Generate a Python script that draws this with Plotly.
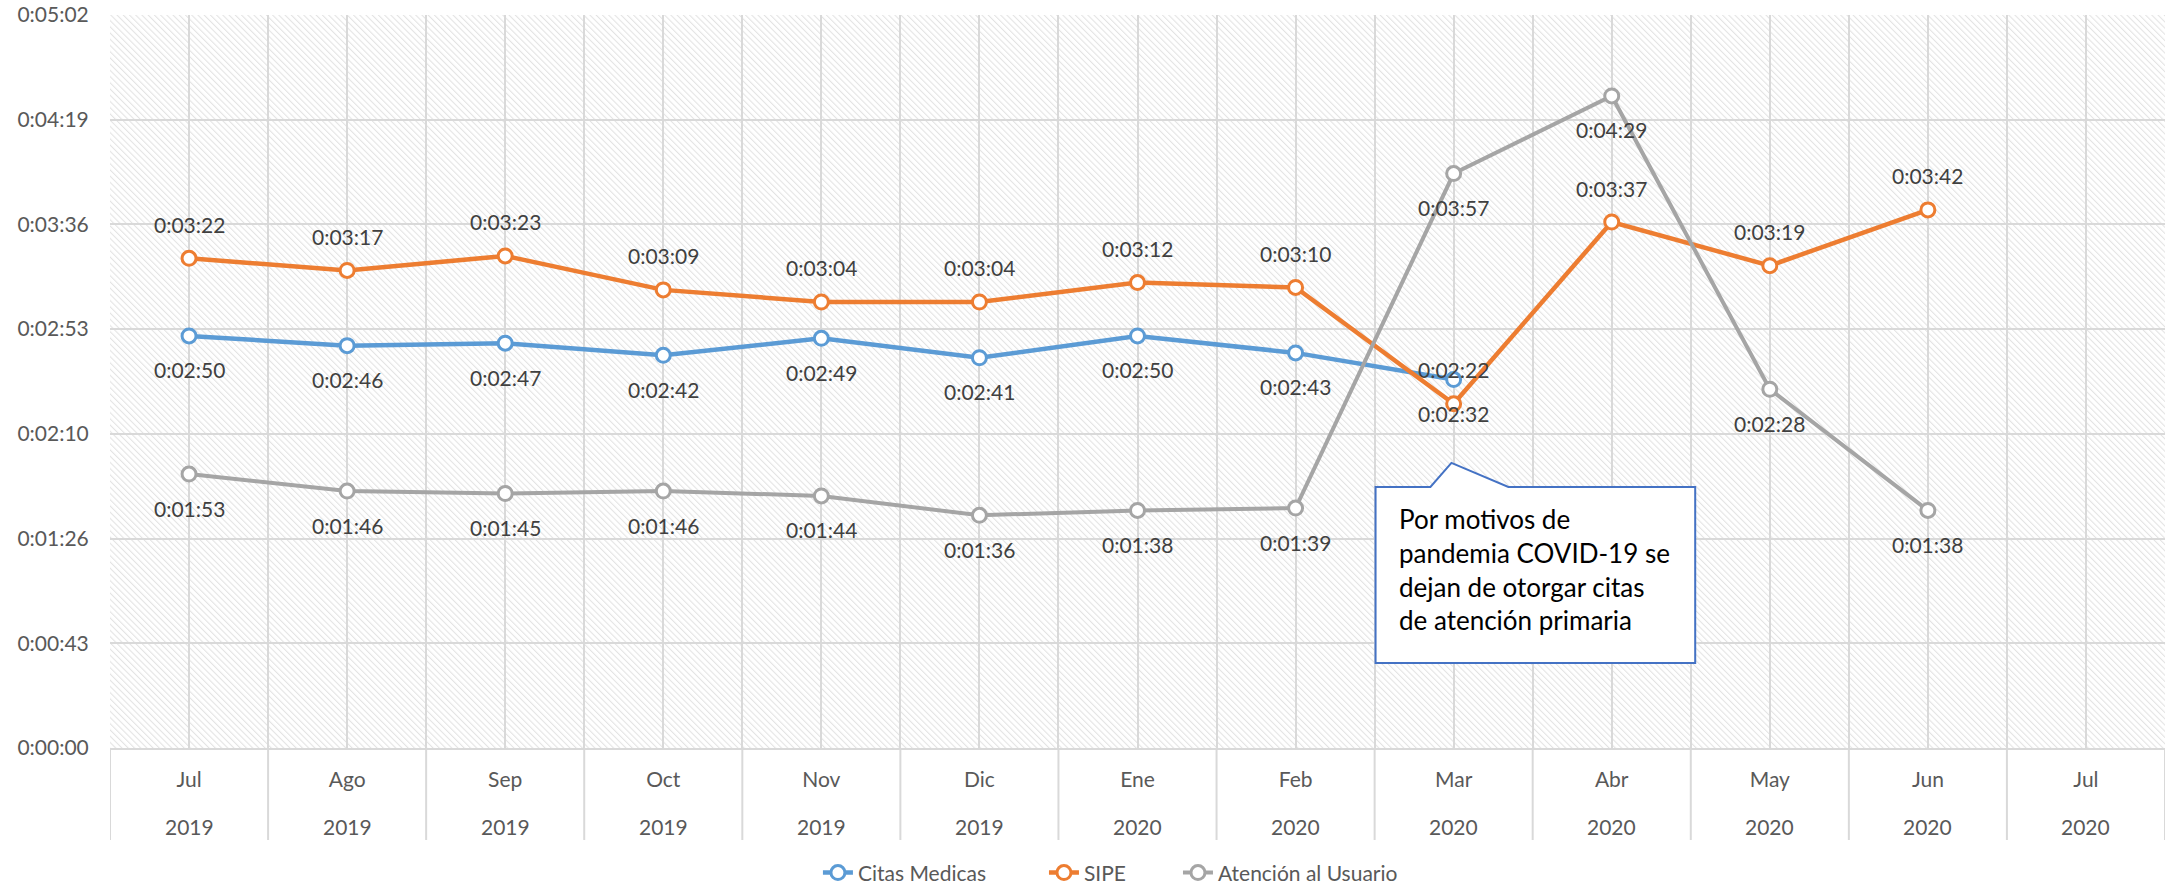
import base64
import plotly.graph_objects as go

months = ["Jul", "Ago", "Sep", "Oct", "Nov", "Dic", "Ene", "Feb", "Mar", "Abr", "May", "Jun", "Jul"]
years = ["2019", "2019", "2019", "2019", "2019", "2019", "2020", "2020", "2020", "2020", "2020", "2020", "2020"]

# values in seconds
citas_medicas = [170, 166, 167, 162, 169, 161, 170, 163, 152, None, None, None, None]
sipe = [202, 197, 203, 189, 184, 184, 192, 190, 142, 217, 199, 222, None]
atencion = [113, 106, 105, 106, 104, 96, 98, 99, 237, 269, 148, 98, None]

series_names = ["Citas Medicas", "SIPE", "Atención al Usuario"]
series_values = [citas_medicas, sipe, atencion]
label_side = [-1, 1, -1]  # -1 below the point, +1 above

y_max = 302.4
y_step = 43.2
note_text = "Por motivos de<br>pandemia COVID-19 se<br>dejan de otorgar citas<br>de atención primaria"

COLORS = ["#5B9BD5", "#ED7D31", "#A5A5A5"]
LINE_W = [4.5, 4.5, 4]
LEGEND_X = [0.3778, 0.4822, 0.5441]
FONT = "Lato"
TXT = "#595959"


def fmt(sec):
    s = int(round(sec))
    return f"{s // 3600}:{(s % 3600) // 60:02d}:{s % 60:02d}"


x = list(range(len(months)))
fig = go.Figure()

legend_ids = ["legend", "legend2", "legend3"]
for k, (name, vals) in enumerate(zip(series_names, series_values)):
    fig.add_trace(go.Scatter(
        x=x, y=vals, name=name, mode="lines+markers",
        line=dict(color=COLORS[k], width=LINE_W[k]),
        marker=dict(symbol="circle", size=14, color="white", line=dict(color=COLORS[k], width=3)),
        hoverinfo="skip", legend=legend_ids[k],
    ))

annotations = []
for k, vals in enumerate(series_values):
    for i, v in enumerate(vals):
        if v is None:
            continue
        annotations.append(dict(
            x=i, y=v, xref="x", yref="y", text=fmt(v), showarrow=False,
            yshift=34 * label_side[k], font=dict(family=FONT, size=21, color="#404040"),
        ))

# year row of the category axis
for i, yr in enumerate(years):
    annotations.append(dict(x=i, y=0, xref="x", yref="paper", text=yr, showarrow=False,
                            yshift=-78, yanchor="middle",
                            font=dict(family=FONT, size=21, color=TXT)))

# callout text
annotations.append(dict(
    x=7.64, y=73.6, xref="x", yref="y", text=note_text, showarrow=False,
    xanchor="left", yanchor="middle", align="left",
    font=dict(family=FONT, size=26, color="#000000"),
))

shapes = []
bx0, bx1, by0, by1 = 7.506, 9.528, 35.07, 107.7
path = (f"M {bx0},{by1} L 7.853,{by1} L 7.986,117.6 L 8.346,{by1} "
        f"L {bx1},{by1} L {bx1},{by0} L {bx0},{by0} Z")
shapes.append(dict(type="path", path=path, xref="x", yref="y",
                   fillcolor="white", line=dict(color="#4472C4", width=2), layer="above"))

for i in range(len(months) + 1):
    shapes.append(dict(type="line", xref="x", yref="paper", x0=i - 0.5, x1=i - 0.5,
                       y0=0, y1=-0.1255, line=dict(color="#D9D9D9", width=2)))

# hatch background
W, H = 2055, 733
svg = (f'<svg xmlns="http://www.w3.org/2000/svg" width="{W}" height="{H}" viewBox="0 0 {W} {H}" '
       f'preserveAspectRatio="none"><defs><pattern id="p" width="4.4" height="4.4" '
       f'patternUnits="userSpaceOnUse" patternTransform="rotate(-45)">'
       f'<rect width="4.4" height="4.4" fill="white"/>'
       f'<line x1="0.6" y1="0" x2="0.6" y2="4.4" stroke="#d9d9d9" stroke-width="0.8"/></pattern></defs>'
       f'<rect width="{W}" height="{H}" fill="url(#p)"/></svg>')
src = "data:image/svg+xml;base64," + base64.b64encode(svg.encode()).decode()

yticks = [round(y_step * k, 1) for k in range(8)]

legend_common = dict(orientation="h", xref="container", yref="container",
                     y=0.0136, xanchor="left", yanchor="middle",
                     font=dict(family=FONT, size=21, color=TXT), bgcolor="rgba(0,0,0,0)")

fig.update_layout(
    width=2165, height=885,
    margin=dict(l=110, r=0, t=15, b=137),
    paper_bgcolor="white", plot_bgcolor="rgba(0,0,0,0)",
    font=dict(family=FONT, color=TXT, size=21),
    showlegend=True,
    legend=dict(x=LEGEND_X[0], **legend_common),
    legend2=dict(x=LEGEND_X[1], **legend_common),
    legend3=dict(x=LEGEND_X[2], **legend_common),
    annotations=annotations,
    shapes=shapes,
    images=[dict(source=src, xref="paper", yref="paper", x=0, y=1, sizex=1, sizey=1,
                 sizing="stretch", xanchor="left", yanchor="top", layer="below")],
    xaxis=dict(range=[-0.5, len(months) - 0.5], tickmode="array", tickvals=x,
               ticktext=months, showgrid=True, gridcolor="#D9D9D9", gridwidth=1.5,
               zeroline=False, showline=True, linecolor="#D9D9D9", linewidth=2,
               ticks="outside", ticklen=12, tickcolor="rgba(0,0,0,0)",
               tickfont=dict(family=FONT, size=21, color=TXT),
               minor=dict(tickmode="array", tickvals=[i - 0.5 for i in range(len(months) + 1)],
                          showgrid=True, gridcolor="#D9D9D9", gridwidth=1.5, ticks=""),
               fixedrange=True),
    yaxis=dict(range=[0, y_max], tickmode="array", tickvals=yticks,
               ticktext=[fmt(v) for v in yticks], showgrid=True, gridcolor="#D9D9D9",
               gridwidth=1.5, zeroline=False, showline=False,
               ticks="outside", ticklen=16, tickcolor="rgba(0,0,0,0)",
               tickfont=dict(family=FONT, size=21, color=TXT), fixedrange=True),
)

fig.write_html("out.html", config={"displayModeBar": False},
               post_script="document.body.style.margin='0px';document.body.style.overflow='hidden';")
